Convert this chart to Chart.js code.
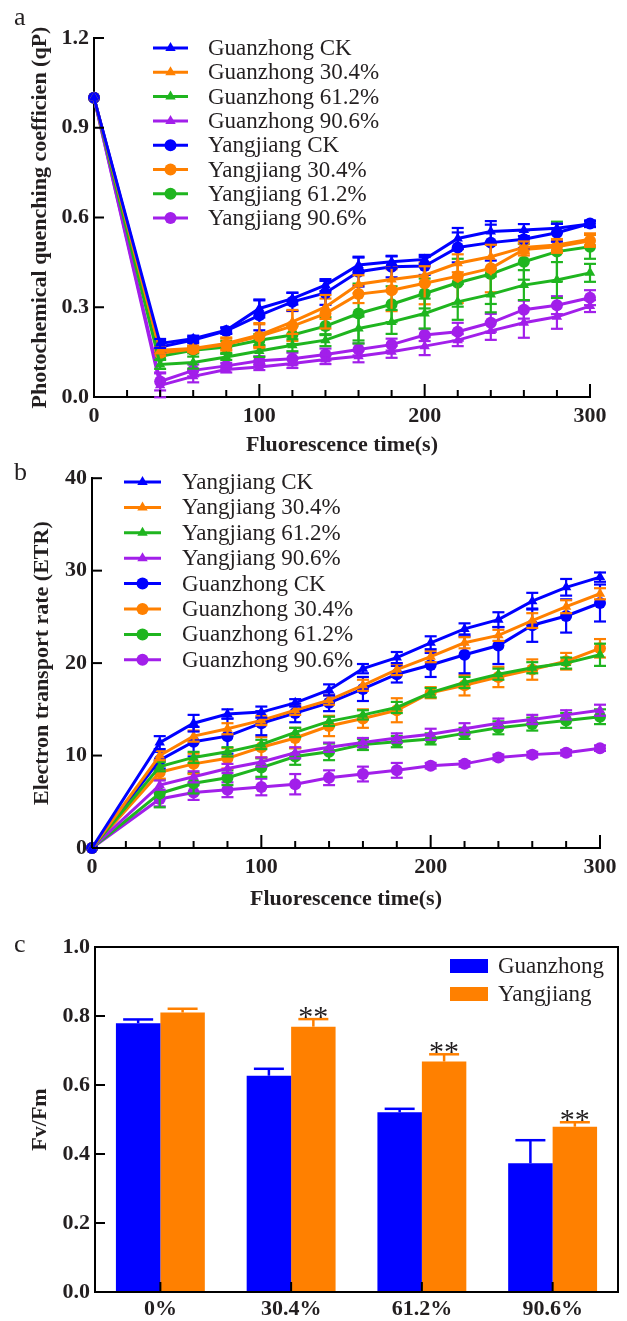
<!DOCTYPE html>
<html><head><meta charset="utf-8">
<script src="https://cdn.jsdelivr.net/npm/chart.js@4.4.1/dist/chart.umd.min.js"></script>
<style>
html,body{margin:0;padding:0;background:#fff;}
body{width:627px;height:1321px;position:relative;overflow:hidden;}
canvas{position:absolute;left:0;}
</style></head><body>
<canvas id="ca" width="627" height="460" style="top:0px"></canvas>
<canvas id="cb" width="627" height="455" style="top:460px"></canvas>
<canvas id="cc" width="627" height="406" style="top:915px"></canvas>
<script>
// ---------- DATA ----------
const times = [0,40,60,80,100,120,140,160,180,200,220,240,260,280,300];

// Panel a: qP
const qpGzCK   = [1.0,0.179,0.195,0.223,0.296,0.329,0.374,0.441,0.452,0.460,0.530,0.553,0.558,0.564,0.578];
const qpGz304  = [1.0,0.156,0.162,0.179,0.207,0.251,0.301,0.377,0.393,0.407,0.447,0.469,0.500,0.508,0.527];
const qpGz612  = [1.0,0.109,0.115,0.134,0.154,0.173,0.190,0.229,0.251,0.279,0.318,0.343,0.374,0.391,0.415];
const qpGz906  = [1.0,0.039,0.069,0.092,0.100,0.112,0.125,0.136,0.151,0.170,0.190,0.221,0.248,0.268,0.304];
const qpYjCK   = [1.0,0.167,0.190,0.221,0.273,0.318,0.348,0.419,0.435,0.438,0.500,0.516,0.527,0.549,0.580];
const qpYj304  = [1.0,0.147,0.160,0.175,0.203,0.237,0.279,0.344,0.357,0.380,0.404,0.430,0.493,0.502,0.522];
const qpYj612  = [1.0,0.136,0.156,0.167,0.190,0.207,0.237,0.279,0.310,0.346,0.382,0.411,0.452,0.486,0.502];
const qpYj906  = [1.0,0.052,0.089,0.104,0.121,0.128,0.142,0.159,0.175,0.207,0.218,0.248,0.292,0.307,0.332];
const qpGzCKErr  = [0,0.015,0.010,0.010,0.030,0.020,0.020,0.025,0.020,0.015,0.035,0.035,0.020,0.015,0.010];
const qpGz304Err = [0,0.010,0.010,0.020,0.040,0.040,0.040,0.030,0.040,0.030,0.030,0.040,0.020,0.020,0.020];
const qpGz612Err = [0,0.015,0.020,0.010,0.020,0.020,0.020,0.040,0.040,0.050,0.060,0.060,0.050,0.060,0.030];
const qpGz906Err = [0,0.040,0.020,0.010,0.010,0.015,0.015,0.020,0.020,0.030,0.020,0.030,0.050,0.040,0.020];
const qpYjCKErr  = [0,0.020,0.010,0.010,0.050,0.030,0.040,0.050,0.035,0.030,0.050,0.060,0.030,0.030,0.010];
const qpYj304Err = [0,0.010,0.010,0.020,0.040,0.050,0.050,0.030,0.070,0.070,0.090,0.080,0.020,0.020,0.020];
const qpYj612Err = [0,0.010,0.010,0.020,0.020,0.030,0.030,0.100,0.060,0.050,0.080,0.100,0.060,0.100,0.040];
const qpYj906Err = [0,0.030,0.020,0.010,0.015,0.020,0.020,0.020,0.020,0.020,0.030,0.030,0.030,0.030,0.025];

// Panel b: ETR
const etrYjCK  = [0,11.4,13.5,14.5,14.7,15.7,17.1,19.4,20.6,22.2,23.7,24.7,26.7,28.2,29.3];
const etrYj304 = [0,10.0,12.1,12.9,13.8,14.9,16.0,17.6,19.3,20.7,22.2,23.0,24.6,26.1,27.5];
const etrYj612 = [0,8.8,9.8,10.4,11.2,12.5,13.7,14.4,15.2,16.8,17.9,18.8,19.5,20.0,20.9];
const etrYj906 = [0,6.8,7.7,8.6,9.3,10.3,10.9,11.4,11.9,12.3,12.9,13.5,13.9,14.4,14.9];
const etrGzCK  = [0,9.5,11.5,12.1,13.5,14.6,15.7,17.2,18.8,19.8,20.9,21.9,24.1,25.1,26.5];
const etrGz304 = [0,8.2,9.1,9.7,10.9,11.9,13.2,14.0,14.9,16.8,17.6,18.5,19.3,20.2,21.6];
const etrGz612 = [0,5.9,7.0,7.6,8.7,9.9,10.4,11.2,11.5,11.8,12.4,13.0,13.4,13.8,14.2];
const etrGz906 = [0,5.3,6.0,6.3,6.6,6.9,7.6,8.0,8.4,8.9,9.1,9.8,10.1,10.3,10.8];
const etrYjCKErr  = [0,0.7,0.9,0.5,0.6,0.4,0.6,0.5,0.6,0.7,0.6,0.8,0.9,0.9,0.5];
const etrYj304Err = [0,0.5,0.6,0.6,0.5,0.5,0.5,0.6,0.6,0.6,0.6,0.6,0.8,0.7,0.6];
const etrYj612Err = [0,0.5,0.6,0.5,0.5,0.5,0.5,0.5,0.6,0.5,0.6,0.6,0.6,0.6,1.2];
const etrYj906Err = [0,0.5,0.6,0.5,0.5,0.6,0.5,0.5,0.5,0.6,0.6,0.5,0.5,0.5,0.6];
const etrGzCKErr  = [0,0.9,1.6,1.9,1.3,1.0,0.9,1.3,0.9,1.3,2.0,2.0,1.8,1.8,2.0];
const etrGz304Err = [0,0.7,1.1,1.1,1.1,1.1,1.1,1.0,1.3,0.6,1.1,1.1,1.1,0.9,1.0];
const etrGz612Err = [0,1.5,1.1,0.8,1.0,0.9,0.9,0.6,0.6,0.6,0.6,0.7,0.7,0.8,0.8];
const etrGz906Err = [0,0.8,0.8,0.8,0.9,1.1,0.8,0.8,0.8,0.3,0.3,0.3,0.3,0.3,0.3];

// Panel c: Fv/Fm
const fvCats   = ['0%','30.4%','61.2%','90.6%'];
const fvGz     = [0.779,0.627,0.521,0.373];
const fvGzErr  = [0.011,0.020,0.010,0.067];
const fvYj     = [0.810,0.769,0.668,0.479];
const fvYjErr  = [0.011,0.022,0.021,0.013];
const fvStars  = ['','**','**','**'];

// ---------- STYLE ----------
const BLUE='#0000ff', ORANGE='#ff8000', GREEN='#1fb51f', PURPLE='#a21fea';
const TXT='#231f20';
const SERIF='"Liberation Serif", "Times New Roman", serif';
const tickFont={family:SERIF,weight:'bold',size:22};
const titleFont={family:SERIF,weight:'bold',size:22};
const PR=6, LW=3;

// ---------- PLUGINS ----------
function seg(ctx,x1,y1,x2,y2){ctx.beginPath();ctx.moveTo(x1,y1);ctx.lineTo(x2,y2);ctx.stroke();}

const inTicks={id:'inTicks',afterDraw(chart,args,o){
  const ctx=chart.ctx,a=chart.chartArea;ctx.save();ctx.strokeStyle='#000';ctx.lineWidth=2;
  const ys=chart.scales.y, xs=chart.scales.x;
  ys.ticks.forEach(t=>{const p=ys.getPixelForValue(t.value);seg(ctx,a.left,p,a.left+o.yLen,p);});
  if(o.category){
    xs.ticks.forEach((t,i)=>{const p=xs.getPixelForTick(i);seg(ctx,p,a.bottom,p,a.bottom-o.xLen);});
  } else {
    xs.ticks.forEach(t=>{const p=xs.getPixelForValue(t.value);const L=(t.value%100===0)?o.xMajor:o.xLen;seg(ctx,p,a.bottom,p,a.bottom-L);});
  }
  if(o.box){ctx.lineWidth=2;ctx.strokeRect(a.left,a.top,a.right-a.left,a.bottom-a.top);}
  ctx.restore();
}};

const errBars={id:'errBars',afterDatasetDraw(chart,args,o){
  const ds=chart.data.datasets[args.index]; if(!ds.errs) return;
  const ctx=chart.ctx, ys=chart.scales.y; ctx.save();
  ctx.strokeStyle=ds.borderColor||ds.backgroundColor; ctx.lineWidth=o.lw;
  args.meta.data.forEach((el,i)=>{
    const e=ds.errs[i]; if(!e) return;
    const d=ds.data[i]; const v=(typeof d==='object')?d.y:d;
    const top=ys.getPixelForValue(v+e);
    const bot=o.upOnly?el.y:ys.getPixelForValue(v-e);
    seg(ctx,el.x,top,el.x,bot);
    seg(ctx,el.x-o.cap/2,top,el.x+o.cap/2,top);
    if(!o.upOnly) seg(ctx,el.x-o.cap/2,bot,el.x+o.cap/2,bot);
    if(ds.stars && ds.stars[i]){
      ctx.fillStyle=TXT; ctx.font='30px '+SERIF; ctx.textAlign='center'; ctx.textBaseline='alphabetic';
      ctx.fillText(ds.stars[i],el.x,top+7);
    }
  });
  ctx.restore();
}};

const lineLegend={id:'lineLegend',afterDraw(chart,args,o){
  const ctx=chart.ctx; ctx.save();
  chart.data.datasets.forEach((ds,i)=>{
    const y=o.y+i*o.dy;
    ctx.strokeStyle=ds.borderColor; ctx.fillStyle=ds.borderColor; ctx.lineWidth=LW;
    seg(ctx,o.x0,y,o.x1,y);
    Chart.helpers.drawPoint(ctx,{pointStyle:ds.pointStyle,radius:PR,borderWidth:0,rotation:0},(o.x0+o.x1)/2,y);
    ctx.fillStyle=TXT; ctx.font='23px '+SERIF; ctx.textAlign='left'; ctx.textBaseline='middle';
    ctx.fillText(ds.label,o.tx,y+1);
  });
  ctx.restore();
}};

const barLegend={id:'barLegend',afterDraw(chart,args,o){
  const ctx=chart.ctx; ctx.save();
  chart.data.datasets.forEach((ds,i)=>{
    const y=o.y+i*o.dy;
    ctx.fillStyle=ds.backgroundColor; ctx.fillRect(o.x0,y-7,o.x1-o.x0,14);
    ctx.fillStyle=TXT; ctx.font='23px '+SERIF; ctx.textAlign='left'; ctx.textBaseline='middle';
    ctx.fillText(ds.label,o.tx,y+1);
  });
  ctx.restore();
}};

const panelLabel={id:'panelLabel',afterDraw(chart,args,o){
  const ctx=chart.ctx; ctx.save(); ctx.fillStyle=TXT; ctx.font='26px '+SERIF;
  ctx.textAlign='left'; ctx.textBaseline='alphabetic'; ctx.fillText(o.text,o.x,o.y); ctx.restore();
}};

// ---------- HELPERS ----------
function lineDS(label,vals,errs,color,style){
  return {label,data:times.map((t,i)=>({x:t,y:vals[i]})),errs,borderColor:color,backgroundColor:color,
    pointStyle:style,pointRadius:PR,pointHoverRadius:PR,pointBorderWidth:0,borderWidth:LW,tension:0,clip:false};
}
function lineScales(ymax,ystep,ydec,yTitle,yW,xH,xTitlePad,yTitlePad){
  return {
    x:{type:'linear',min:0,max:300,
       ticks:{stepSize:20,autoSkip:false,maxRotation:0,padding:6,color:TXT,font:tickFont,callback:v=>(v%100===0?String(v):'')},
       grid:{display:false,drawTicks:false},border:{display:true,color:'#000',width:2},
       title:{display:true,text:'Fluorescence time(s)',color:TXT,font:titleFont,padding:{top:0,bottom:xTitlePad}},
       afterFit:s=>{s.height=xH;}},
    y:{type:'linear',min:0,max:ymax,
       ticks:{stepSize:ystep,padding:5,color:TXT,font:tickFont,callback:v=>Number(v).toFixed(ydec)},
       grid:{display:false,drawTicks:false},border:{display:true,color:'#000',width:2},
       title:{display:true,text:yTitle,color:TXT,font:titleFont,padding:{top:yTitlePad,bottom:0}},
       afterFit:s=>{s.width=yW;}}
  };
}
const common={responsive:false,animation:false,devicePixelRatio:1,events:[]};

// ---------- PANEL A ----------
new Chart(document.getElementById('ca'),{
  type:'line',
  data:{datasets:[
    lineDS('Guanzhong CK',qpGzCK,qpGzCKErr,BLUE,'triangle'),
    lineDS('Guanzhong 30.4%',qpGz304,qpGz304Err,ORANGE,'triangle'),
    lineDS('Guanzhong 61.2%',qpGz612,qpGz612Err,GREEN,'triangle'),
    lineDS('Guanzhong 90.6%',qpGz906,qpGz906Err,PURPLE,'triangle'),
    lineDS('Yangjiang CK',qpYjCK,qpYjCKErr,BLUE,'circle'),
    lineDS('Yangjiang 30.4%',qpYj304,qpYj304Err,ORANGE,'circle'),
    lineDS('Yangjiang 61.2%',qpYj612,qpYj612Err,GREEN,'circle'),
    lineDS('Yangjiang 90.6%',qpYj906,qpYj906Err,PURPLE,'circle')
  ]},
  options:Object.assign({},common,{
    layout:{padding:{left:0,right:37,top:38,bottom:0}},
    scales:lineScales(1.2,0.3,1,'Photochemical quenching coefficien (qP)',94,63,1,27),
    plugins:{legend:{display:false},tooltip:{enabled:false},
      inTicks:{yLen:10,xLen:7,xMajor:13},
      errBars:{lw:2.2,cap:12,upOnly:false},
      lineLegend:{x0:153,x1:188,tx:208,y:48,dy:24.3},
      panelLabel:{text:'a',x:14,y:25}}
  }),
  plugins:[errBars,inTicks,lineLegend,panelLabel]
});

// ---------- PANEL B ----------
new Chart(document.getElementById('cb'),{
  type:'line',
  data:{datasets:[
    lineDS('Yangjiang CK',etrYjCK,etrYjCKErr,BLUE,'triangle'),
    lineDS('Yangjiang 30.4%',etrYj304,etrYj304Err,ORANGE,'triangle'),
    lineDS('Yangjiang 61.2%',etrYj612,etrYj612Err,GREEN,'triangle'),
    lineDS('Yangjiang 90.6%',etrYj906,etrYj906Err,PURPLE,'triangle'),
    lineDS('Guanzhong CK',etrGzCK,etrGzCKErr,BLUE,'circle'),
    lineDS('Guanzhong 30.4%',etrGz304,etrGz304Err,ORANGE,'circle'),
    lineDS('Guanzhong 61.2%',etrGz612,etrGz612Err,GREEN,'circle'),
    lineDS('Guanzhong 90.6%',etrGz906,etrGz906Err,PURPLE,'circle')
  ]},
  options:Object.assign({},common,{
    layout:{padding:{left:0,right:27,top:14,bottom:0}},
    scales:lineScales(40,10,0,'Electron transport rate (ETR)',92,67,2,29),
    plugins:{legend:{display:false},tooltip:{enabled:false},
      inTicks:{yLen:10,xLen:7,xMajor:13},
      errBars:{lw:2.2,cap:12,upOnly:false},
      lineLegend:{x0:124,x1:161,tx:182,y:22,dy:25.4},
      panelLabel:{text:'b',x:14,y:20}}
  }),
  plugins:[errBars,inTicks,lineLegend,panelLabel]
});

// ---------- PANEL C ----------
new Chart(document.getElementById('cc'),{
  type:'bar',
  data:{labels:fvCats,datasets:[
    {label:'Guanzhong',data:fvGz,errs:fvGzErr,backgroundColor:BLUE,borderColor:BLUE,borderWidth:0,barPercentage:1,categoryPercentage:0.68},
    {label:'Yangjiang',data:fvYj,errs:fvYjErr,stars:fvStars,backgroundColor:ORANGE,borderColor:ORANGE,borderWidth:0,barPercentage:1,categoryPercentage:0.68}
  ]},
  options:Object.assign({},common,{
    layout:{padding:{left:0,right:9,top:32,bottom:0}},
    scales:{
      x:{ticks:{padding:4,color:TXT,font:tickFont,maxRotation:0},grid:{display:false,drawTicks:false},
         border:{display:true,color:'#000',width:2},afterFit:s=>{s.height=29;}},
      y:{min:0,max:1.0,ticks:{stepSize:0.2,padding:5,color:TXT,font:tickFont,callback:v=>Number(v).toFixed(1)},
         grid:{display:false,drawTicks:false},border:{display:true,color:'#000',width:2},
         title:{display:true,text:'Fv/Fm',color:TXT,font:titleFont,padding:{top:27,bottom:0}},
         afterFit:s=>{s.width=95;}}
    },
    plugins:{legend:{display:false},tooltip:{enabled:false},
      inTicks:{yLen:10,xLen:10,category:true,box:true},
      errBars:{lw:2.5,cap:30,upOnly:true},
      barLegend:{x0:450,x1:488,tx:498,y:51,dy:28},
      panelLabel:{text:'c',x:14,y:37}}
  }),
  plugins:[errBars,inTicks,barLegend,panelLabel]
});
</script>
</body></html>
